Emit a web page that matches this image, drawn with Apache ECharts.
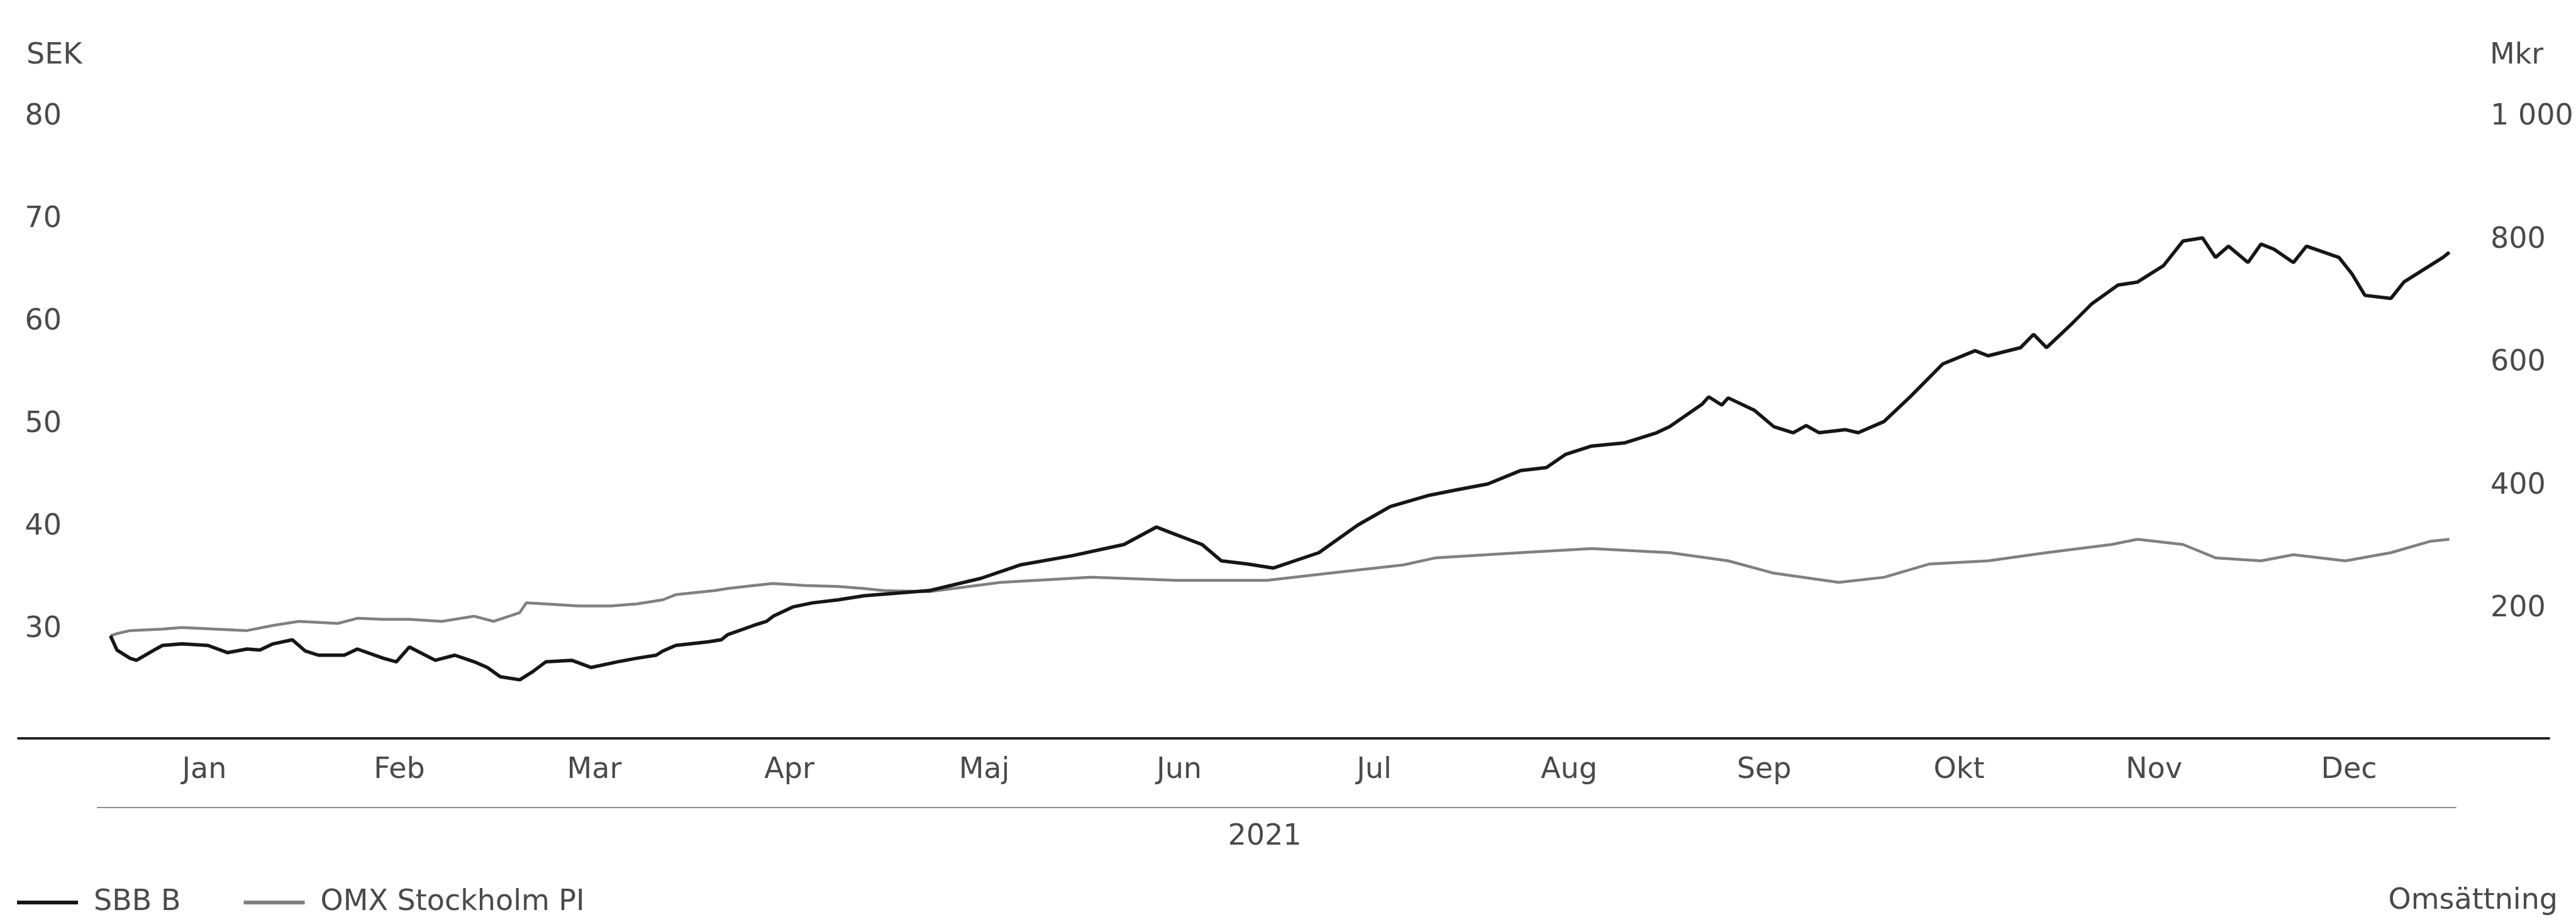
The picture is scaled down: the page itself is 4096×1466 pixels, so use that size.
<!DOCTYPE html>
<html>
<head>
<meta charset="utf-8">
<title>SBB B och OMX Stockholm PI 2021</title>
<script src="https://cdn.jsdelivr.net/npm/echarts@6/dist/echarts.min.js"></script>
<style>
  html, body { margin: 0; padding: 0; background: #ffffff; }
  #chart { width: 4096px; height: 1466px; }
</style>
</head>
<body>
<div id="chart"></div>
<script>
// Kursutveckling 2021, SEK (OMX Stockholm PI omräknat till SBB B:s startkurs)
const sbbDates = [
  '2021-01-04','2021-01-05','2021-01-07','2021-01-08','2021-01-11','2021-01-12','2021-01-15','2021-01-19',
  '2021-01-22','2021-01-25','2021-01-27','2021-01-29','2021-02-01','2021-02-03','2021-02-05','2021-02-09',
  '2021-02-11','2021-02-15','2021-02-17','2021-02-19','2021-02-23','2021-02-26','2021-03-01','2021-03-03',
  '2021-03-05','2021-03-08','2021-03-10','2021-03-12','2021-03-16','2021-03-19','2021-03-23','2021-03-26',
  '2021-03-29','2021-03-30','2021-04-01','2021-04-06','2021-04-08','2021-04-09','2021-04-13','2021-04-15',
  '2021-04-16','2021-04-19','2021-04-22','2021-04-26','2021-04-30','2021-05-10','2021-05-18','2021-05-24',
  '2021-06-01','2021-06-09','2021-06-14','2021-06-16','2021-06-21','2021-06-24','2021-06-28','2021-07-02',
  '2021-07-09','2021-07-15','2021-07-20','2021-07-26','2021-07-30','2021-08-04','2021-08-09','2021-08-13',
  '2021-08-16','2021-08-20','2021-08-25','2021-08-30','2021-09-01','2021-09-06','2021-09-07','2021-09-09',
  '2021-09-10','2021-09-14','2021-09-17','2021-09-20','2021-09-22','2021-09-24','2021-09-28','2021-09-30',
  '2021-10-04','2021-10-08','2021-10-13','2021-10-18','2021-10-20','2021-10-25','2021-10-27','2021-10-29',
  '2021-11-02','2021-11-05','2021-11-09','2021-11-12','2021-11-16','2021-11-19','2021-11-22','2021-11-24',
  '2021-11-26','2021-11-29','2021-12-01','2021-12-03','2021-12-06','2021-12-08','2021-12-13','2021-12-15',
  '2021-12-17','2021-12-21','2021-12-23','2021-12-27','2021-12-29','2021-12-30'
];

const sbb = [
  29.4, 28.0, 27.2, 27.0, 28.1, 28.45, 28.6, 28.45,
  27.75, 28.1, 28.0, 28.6, 29.0, 27.9, 27.5, 27.5,
  28.1, 27.2, 26.85, 28.3, 27.0, 27.5, 26.85, 26.3,
  25.4, 25.1, 25.9, 26.85, 27.0, 26.3, 26.85, 27.2,
  27.5, 27.9, 28.45, 28.8, 29.0, 29.5, 30.4, 30.8,
  31.3, 32.2, 32.6, 32.9, 33.3, 33.8, 35.0, 36.3,
  37.2, 38.3, 40.0, 39.5, 38.3, 36.7, 36.4, 36.0,
  37.5, 40.2, 42.0, 43.1, 43.6, 44.2, 45.5, 45.8,
  47.1, 47.9, 48.2, 49.2, 49.8, 52.0, 52.7, 51.9,
  52.6, 51.4, 49.8, 49.2, 49.9, 49.2, 49.5, 49.2,
  50.3, 52.7, 55.9, 57.2, 56.7, 57.5, 58.8, 57.5,
  59.9, 61.8, 63.6, 63.9, 65.5, 67.9, 68.2, 66.3,
  67.4, 65.8, 67.6, 67.1, 65.8, 67.4, 66.3, 64.7,
  62.6, 62.3, 63.9, 65.5, 66.3, 66.8
];

const omxDates = [
  '2021-01-04','2021-01-05','2021-01-07','2021-01-12','2021-01-15','2021-01-20','2021-01-25','2021-01-29',
  '2021-02-02','2021-02-08','2021-02-11','2021-02-15','2021-02-19','2021-02-24','2021-03-01','2021-03-04',
  '2021-03-08','2021-03-09','2021-03-12','2021-03-17','2021-03-22','2021-03-26','2021-03-30','2021-04-01',
  '2021-04-07','2021-04-09','2021-04-13','2021-04-16','2021-04-21','2021-04-26','2021-04-30','2021-05-03',
  '2021-05-10','2021-05-21','2021-06-04','2021-06-17','2021-07-01','2021-07-12','2021-07-22','2021-07-27',
  '2021-08-09','2021-08-20','2021-09-01','2021-09-10','2021-09-17','2021-09-27','2021-10-04','2021-10-11',
  '2021-10-20','2021-10-29','2021-11-08','2021-11-12','2021-11-19','2021-11-24','2021-12-01','2021-12-06',
  '2021-12-14','2021-12-21','2021-12-27','2021-12-30'
];

const omx = [
  29.4, 29.6, 29.9, 30.05, 30.2, 30.05, 29.9, 30.4,
  30.8, 30.6, 31.1, 31.0, 31.0, 30.8, 31.3, 30.8,
  31.65, 32.6, 32.5, 32.3, 32.3, 32.5, 32.9, 33.4,
  33.8, 34.0, 34.3, 34.5, 34.3, 34.2, 34.0, 33.8,
  33.7, 34.6, 35.1, 34.8, 34.8, 35.6, 36.3, 37.0,
  37.5, 37.9, 37.5, 36.7, 35.5, 34.6, 35.1, 36.4,
  36.7, 37.5, 38.3, 38.8, 38.3, 37.0, 36.7, 37.3,
  36.7, 37.5, 38.6, 38.8
];

// Omsättning (Mkr) – inga staplar att visa
const turnover = [];

const months = ['Jan', 'Feb', 'Mar', 'Apr', 'Maj', 'Jun', 'Jul', 'Aug', 'Sep', 'Okt', 'Nov', 'Dec'];
const years = ['2021'];
const seriesNames = ['SBB B', 'OMX Stockholm PI', 'Omsättning'];

const FONT = 'DejaVu Sans';
const FS = 46;
const TEXT = '#4a4a4a';
const SBB_COLOR = '#161616';
const OMX_COLOR = '#808080';

const chart = echarts.init(document.getElementById('chart'), null, { renderer: 'canvas' });

const pairs = (ds, vals) => ds.map((d, i) => [d, vals[i]]);

chart.setOption({
  animation: false,
  backgroundColor: '#ffffff',
  textStyle: { fontFamily: FONT },
  title: [
    { text: 'SEK', left: 42, top: 66, padding: 0,
      textStyle: { fontFamily: FONT, fontSize: FS, fontWeight: 'normal', color: TEXT } },
    { text: 'Mkr', left: 3959, top: 66, padding: 0,
      textStyle: { fontFamily: FONT, fontSize: FS, fontWeight: 'normal', color: TEXT } }
  ],
  legend: [
    {
      data: [
        { name: 'SBB B', itemStyle: { color: SBB_COLOR } },
        { name: 'OMX Stockholm PI', itemStyle: { color: OMX_COLOR } }
      ],
      left: 27, top: 1412, padding: 0,
      icon: 'rect', itemWidth: 97, itemHeight: 6, itemGap: 100,
      textStyle: { fontFamily: FONT, fontSize: FS, color: TEXT, padding: [0, 0, 0, 20] }
    },
    {
      data: ['Omsättning'],
      right: 29, top: 1410, padding: 0,
      icon: 'rect', itemWidth: 0, itemHeight: 0,
      textStyle: { fontFamily: FONT, fontSize: FS, color: TEXT }
    }
  ],
  grid: [
    { left: 155, right: 191, top: 186, bottom: 302 },  // kurser
    { left: 29, right: 43, top: 186, bottom: 292 },    // baslinje
    { left: 170, right: 206, top: 186, bottom: 302 }   // månadsetiketter
  ],
  xAxis: [
    { // dagsnoteringar
      type: 'time', gridIndex: 0,
      min: '2021-01-02', max: '2021-12-31',
      axisLine: { show: false }, axisTick: { show: false },
      axisLabel: { show: false }, splitLine: { show: false }
    },
    { // år
      type: 'category', gridIndex: 0, data: years, boundaryGap: true,
      position: 'bottom', offset: 120,
      axisLine: { show: true, lineStyle: { color: '#8c8c8c', width: 2 } },
      axisTick: { show: false },
      axisLabel: { margin: 24, padding: [0, 38, 0, 0], fontFamily: FONT, fontSize: FS, color: TEXT },
      splitLine: { show: false }
    },
    { // baslinje
      type: 'value', gridIndex: 1, min: 0, max: 1,
      axisLine: { show: true, onZero: false, lineStyle: { color: '#262626', width: 4 } },
      axisTick: { show: false }, axisLabel: { show: false }, splitLine: { show: false }
    },
    { // månader
      type: 'category', gridIndex: 2, data: months, boundaryGap: true,
      position: 'bottom',
      axisLine: { show: false }, axisTick: { show: false },
      axisLabel: { margin: 38, fontFamily: FONT, fontSize: FS, color: TEXT },
      splitLine: { show: false }
    }
  ],
  yAxis: [
    {
      type: 'value', gridIndex: 0, position: 'left',
      min: 20, max: 80, interval: 10,
      axisLine: { show: false }, axisTick: { show: false }, splitLine: { show: false },
      axisLabel: { showMinLabel: false, margin: 57, fontFamily: FONT, fontSize: FS, color: TEXT }
    },
    {
      type: 'value', gridIndex: 0, position: 'right',
      min: 0, max: 1000, interval: 200,
      axisLine: { show: false }, axisTick: { show: false }, splitLine: { show: false },
      axisLabel: {
        showMinLabel: false, margin: 55, fontFamily: FONT, fontSize: FS, color: TEXT,
        formatter: v => String(v).replace(/\B(?=(\d{3})+(?!\d))/g, ' ')
      }
    },
    { type: 'value', gridIndex: 1, show: false, min: 0, max: 1 },
    { type: 'value', gridIndex: 2, show: false, min: 0, max: 1 }
  ],
  series: [
    {
      name: seriesNames[0], type: 'line', xAxisIndex: 0, yAxisIndex: 0,
      data: pairs(sbbDates, sbb), showSymbol: false, symbol: 'none',
      lineStyle: { color: SBB_COLOR, width: 5.5 }, itemStyle: { color: SBB_COLOR }, z: 3
    },
    {
      name: seriesNames[1], type: 'line', xAxisIndex: 0, yAxisIndex: 0,
      data: pairs(omxDates, omx), showSymbol: false, symbol: 'none',
      lineStyle: { color: OMX_COLOR, width: 4.5 }, itemStyle: { color: OMX_COLOR }, z: 2
    },
    {
      name: seriesNames[2], type: 'bar', xAxisIndex: 1, yAxisIndex: 1,
      data: turnover, itemStyle: { color: 'rgba(0,0,0,0)' }
    }
  ]
});
</script>
</body>
</html>
